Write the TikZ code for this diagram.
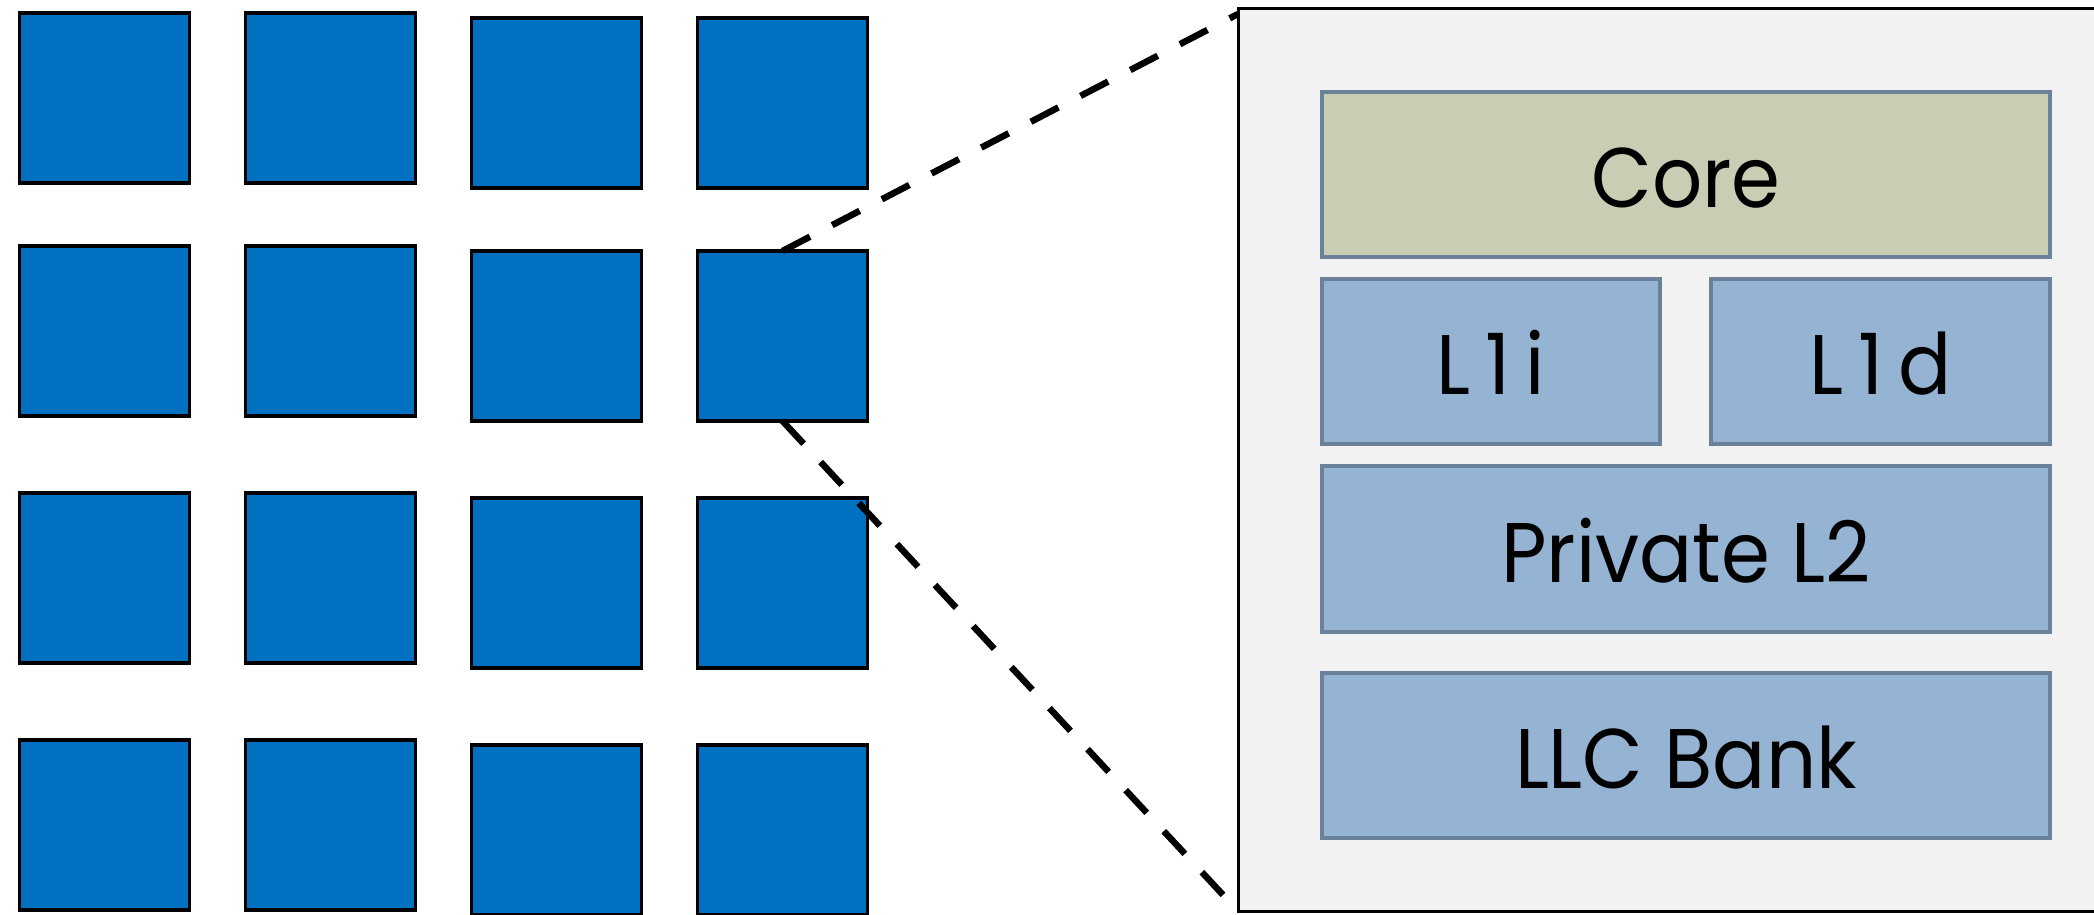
\documentclass[tikz,border=0pt]{standalone}
\usepackage{fontspec}
\setmainfont{Poppins}
\newfontfamily\blockfont[FakeStretch=0.93]{Poppins}

\definecolor{tileblue}{HTML}{0070C0}
\definecolor{panelfill}{HTML}{F2F2F2}
\definecolor{corefill}{HTML}{C9CDB4}
\definecolor{cachefill}{HTML}{95B3D3}
\definecolor{partedge}{HTML}{6A8299}

% wide letter spacing used in the first-level cache labels
\newcommand{\gp}{\hspace{15pt}}

\tikzset{
  tile/.style={draw=black, line width=3.5pt, fill=tileblue,
    minimum width=170pt, minimum height=170pt, inner sep=0pt, outer sep=0pt},
  tilepanel/.style={draw=black, line width=3pt, fill=panelfill,
    inner sep=0pt, outer sep=0pt},
  part/.style={draw=partedge, line width=4pt, fill=cachefill,
    inner sep=0pt, outer sep=0pt, text height=66pt, text depth=0pt,
    font=\blockfont\fontsize{84.6}{100}\selectfont},
  corepart/.style={part, fill=corefill},
  zoomline/.style={draw=black, line width=6.5pt, dash pattern=on 31pt off 25pt}
}

\begin{document}
\begin{tikzpicture}[x=1pt, y=-1pt]
\useasboundingbox (0,0) rectangle (2094,915);
\clip (0,0) rectangle (2094,915);

% 4x4 array of tiles; the two right columns sit a little lower
\foreach \c/\x in {1/104.5,2/330.5,3/556.5,4/782.5}
  \foreach \r/\y in {1/98,2/331,3/578,4/825} {
    \pgfmathsetmacro\yy{\c>2 ? \y+5 : \y}
    \node[tile] (t\r\c) at (\x,\yy) {};
  }

% enlarged tile, open to the right
\node[tilepanel, minimum width=892pt, minimum height=902pt] (panel) at (1684,460) {};
\coordinate (zoomtop) at (1238,14);

% dashed zoom lines from the selected tile
\draw[zoomline] (t24.north) -- (zoomtop);
\draw[zoomline] (t24.south) -- (panel.south west);

% tile contents
\node[corepart, minimum width=728pt, minimum height=165pt] (core) at (1686,174.5) {Core};
\node[part, minimum width=338pt, minimum height=165pt] (l1i) at (1491,361.5) {L\gp 1\gp i};
\node[part, minimum width=339pt, minimum height=165pt] (l1d) at (1880.5,361.5) {L\gp 1\gp d};
\node[part, minimum width=728pt, minimum height=166pt] (l2) at (1686,549) {Private L2};
\node[part, minimum width=728pt, minimum height=165pt] (llc) at (1686,755.5) {LLC Bank};
\end{tikzpicture}
\end{document}
